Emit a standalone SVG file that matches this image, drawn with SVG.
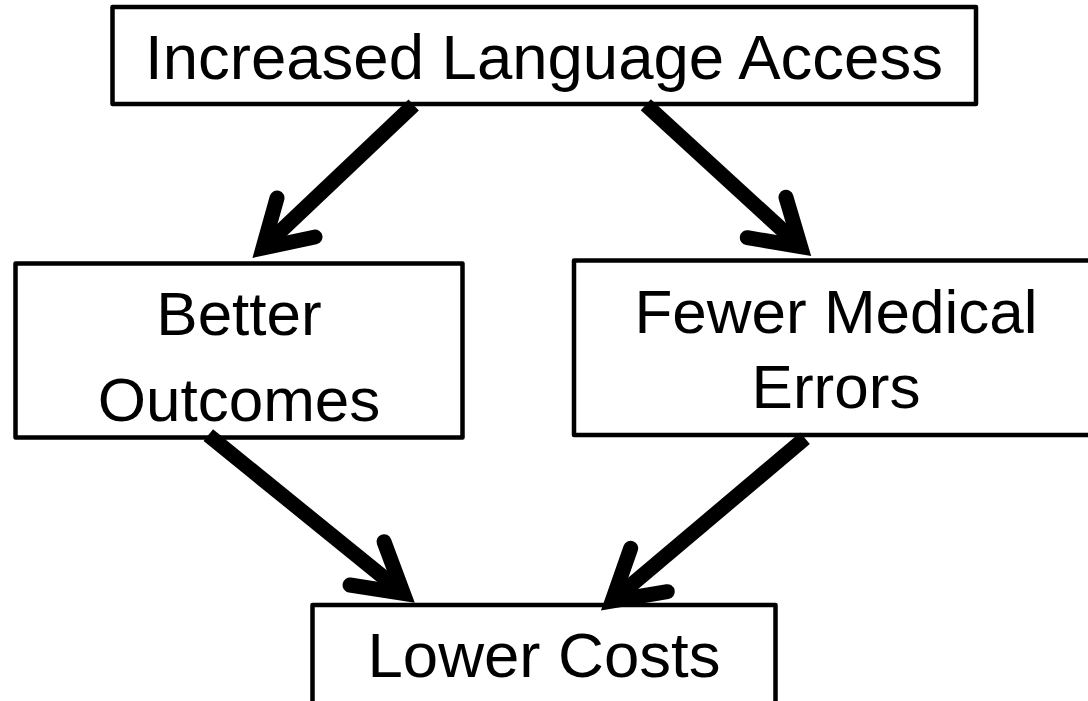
<svg xmlns="http://www.w3.org/2000/svg" width="1088" height="701" viewBox="0 0 1088 701">
  <style>
    .box { fill: #ffffff; stroke: #000000; stroke-width: 4.5; stroke-linejoin: round; }
    .lbl { font-family: "Liberation Sans", Arial, sans-serif; fill: #000000; text-anchor: middle; }
    .shaft { fill: none; stroke: #000000; stroke-width: 15; stroke-linecap: butt; }
    .head { fill: none; stroke: #000000; stroke-width: 15; stroke-linecap: round; stroke-linejoin: miter; stroke-miterlimit: 10; }
  </style>
  <rect width="1088" height="701" fill="#ffffff"/>

  <g id="node-access">
    <rect class="box" x="112.5" y="7" width="863.5" height="97"/>
    <text class="lbl" x="544" y="79" font-size="63.5">Increased Language Access</text>
  </g>

  <g id="node-outcomes">
    <rect class="box" x="15.5" y="263.5" width="447" height="174"/>
    <text class="lbl" x="239" y="335" font-size="62">Better</text>
    <text class="lbl" x="239" y="421" font-size="62">Outcomes</text>
  </g>

  <g id="node-errors">
    <rect class="box" x="574" y="260.5" width="523" height="174.5"/>
    <text class="lbl" x="836" y="333" font-size="62">Fewer Medical</text>
    <text class="lbl" x="836" y="408" font-size="62">Errors</text>
  </g>

  <g id="node-costs">
    <rect class="box" x="312.5" y="605" width="463" height="100"/>
    <text class="lbl" x="544" y="677" font-size="63.5">Lower Costs</text>
  </g>

  <g id="connectors">
    <!-- Access -> Better Outcomes -->
    <line class="shaft" x1="413.7" y1="105" x2="266" y2="245"/>
    <polyline class="head" points="277,198 263,248 315,237"/>
    <!-- Access -> Fewer Medical Errors -->
    <line class="shaft" x1="645.8" y1="104.7" x2="797.5" y2="243.8"/>
    <polyline class="head" points="786,197.3 800.6,246.6 747.3,237.7"/>
    <!-- Better Outcomes -> Lower Costs -->
    <line class="shaft" x1="208.3" y1="435.2" x2="400" y2="590.6"/>
    <polyline class="head" points="384,541.7 403.3,593.3 350,585"/>
    <!-- Fewer Medical Errors -> Lower Costs -->
    <line class="shaft" x1="805" y1="438.3" x2="615.5" y2="598.2"/>
    <polyline class="head" points="630.7,548.3 612.2,601 667.3,591.7"/>
  </g>
</svg>
